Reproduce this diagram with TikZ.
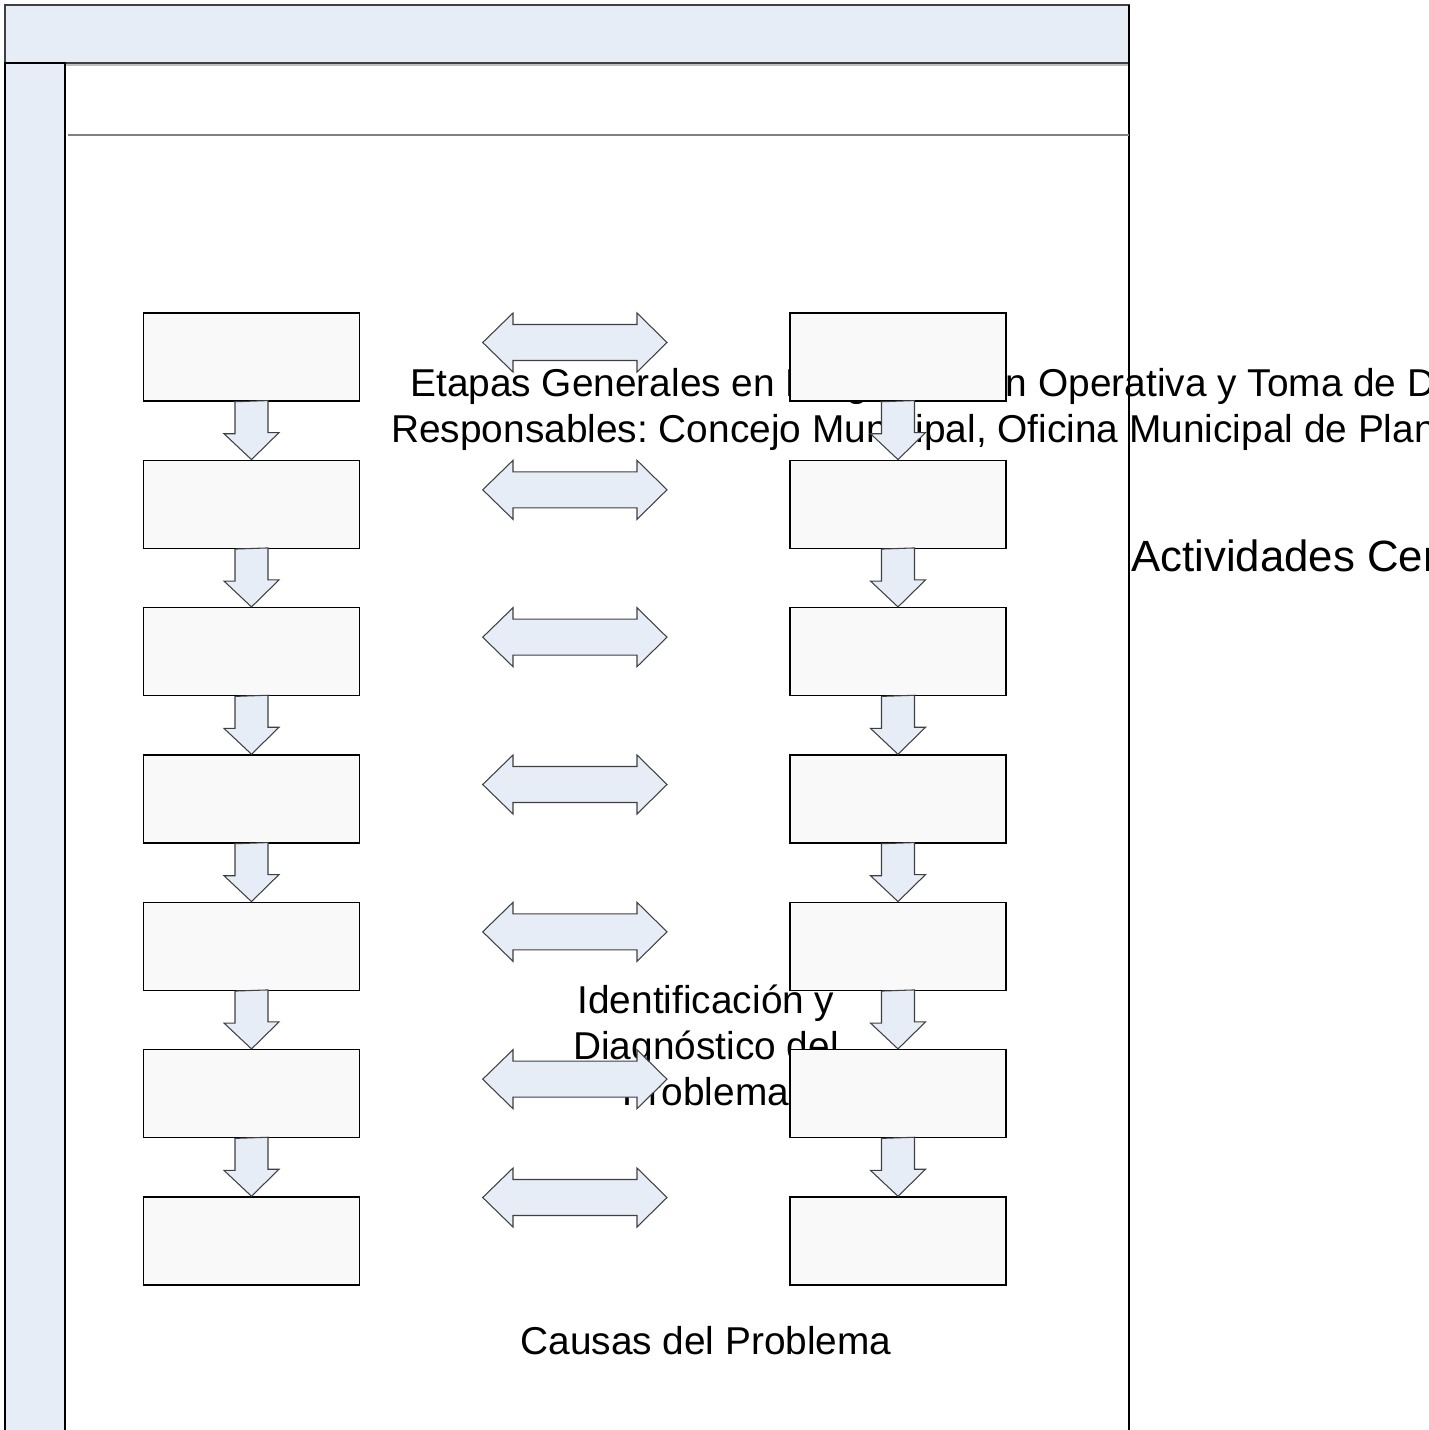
\documentclass[tikz,border=0pt]{standalone}
\usepackage{fontspec}
\setmainfont{Liberation Sans}
\frenchspacing
\definecolor{bandblue}{HTML}{E6EDF7}
\definecolor{boxgray}{HTML}{F9F9F9}
\definecolor{edgegray}{HTML}{404040}
\tikzset{
  stage/.style={draw=black, line width=0.85pt, fill=boxgray,
    minimum width=4.32cm, minimum height=1.76cm, inner sep=0pt},
  flowarrow/.style={draw=edgegray, line width=0.6pt, fill=bandblue},
  plaintext/.style={font=\fontsize{22.1}{26}\selectfont, inner sep=0pt},
}
\begin{document}
\begin{tikzpicture}[x=0.02cm, y=-0.02cm]
    \useasboundingbox (0, 0) rectangle (1428, 1430);
    \clip (0, 0) rectangle (1428, 1430);
    % texts
    \node [plaintext, anchor=base west] (etapas) at (410, 396)
      {Etapas Generales en Programación Operativa y Toma de Decisiones};
    \node [plaintext, anchor=base west] (resp) at (391, 442)
      {Responsables: Concejo Municipal, Oficina Municipal de Planificación};
    \node [plaintext, font=\fontsize{24.9}{30}\selectfont, anchor=base west] (activ) at (1131, 571)
      {Actividades Centrales};
    \node [plaintext, align=center, anchor=base] (ident) at (706, 1105)
      {Identificación y\\Diagnóstico del\\Problema};
    \node [plaintext, anchor=base] (causas) at (706, 1354) {Causas del Problema};
    %
    % frame
    \filldraw [fill=bandblue, draw=edgegray, line width=1.1pt] (5, 5) rectangle (1129, 63);
    \draw [color=black!25, line width=0.6pt] (66, 65) -- (1129, 65);
    \filldraw [fill=bandblue, draw=black, line width=1.1pt] (5, 63) rectangle (65, 1450);
    \draw [color=black, line width=1pt] (1129, 5) -- (1129, 1450);
    \draw [color=black!50, line width=1.1pt] (68, 135) -- (1129, 135);
    %
    % boxes
    \foreach \i in {1,...,7} {
      \node [stage] (l\i) at (251.5, {357 + 147.33*(\i-1)}) {};
      \node [stage] (r\i) at (898, {357 + 147.33*(\i-1)}) {};
    }
    %
    % down arrows
    \foreach \i/\j in {1/2, 2/3, 3/4, 4/5, 5/6, 6/7} {
      \draw [flowarrow] (l\i.south) ++(-16.5, 0) -- ++(0, 32) -- ++(-11, 0) -- (l\j.north)
        -- ++(27.5, -27) -- ++(-11, 0) -- ++(0, -32) -- cycle;
      \draw [flowarrow] (r\i.south) ++(-16.5, 0) -- ++(0, 32) -- ++(-11, 0) -- (r\j.north)
        -- ++(27.5, -27) -- ++(-11, 0) -- ++(0, -32) -- cycle;
    }
    %
    % double arrows
    \foreach \y in {342.5, 489.8, 637.2, 784.5, 931.8, 1079.2, 1197.5} {
      \draw [flowarrow] (482.7, \y) -- ++(30.3, -29.5) -- ++(0, 11.5) -- ++(124, 0)
        -- ++(0, -11.5) -- ++(30, 29.5) -- ++(-30, 29.5) -- ++(0, -11.5)
        -- ++(-124, 0) -- ++(0, 11.5) -- cycle;
    }
\end{tikzpicture}
\end{document}
